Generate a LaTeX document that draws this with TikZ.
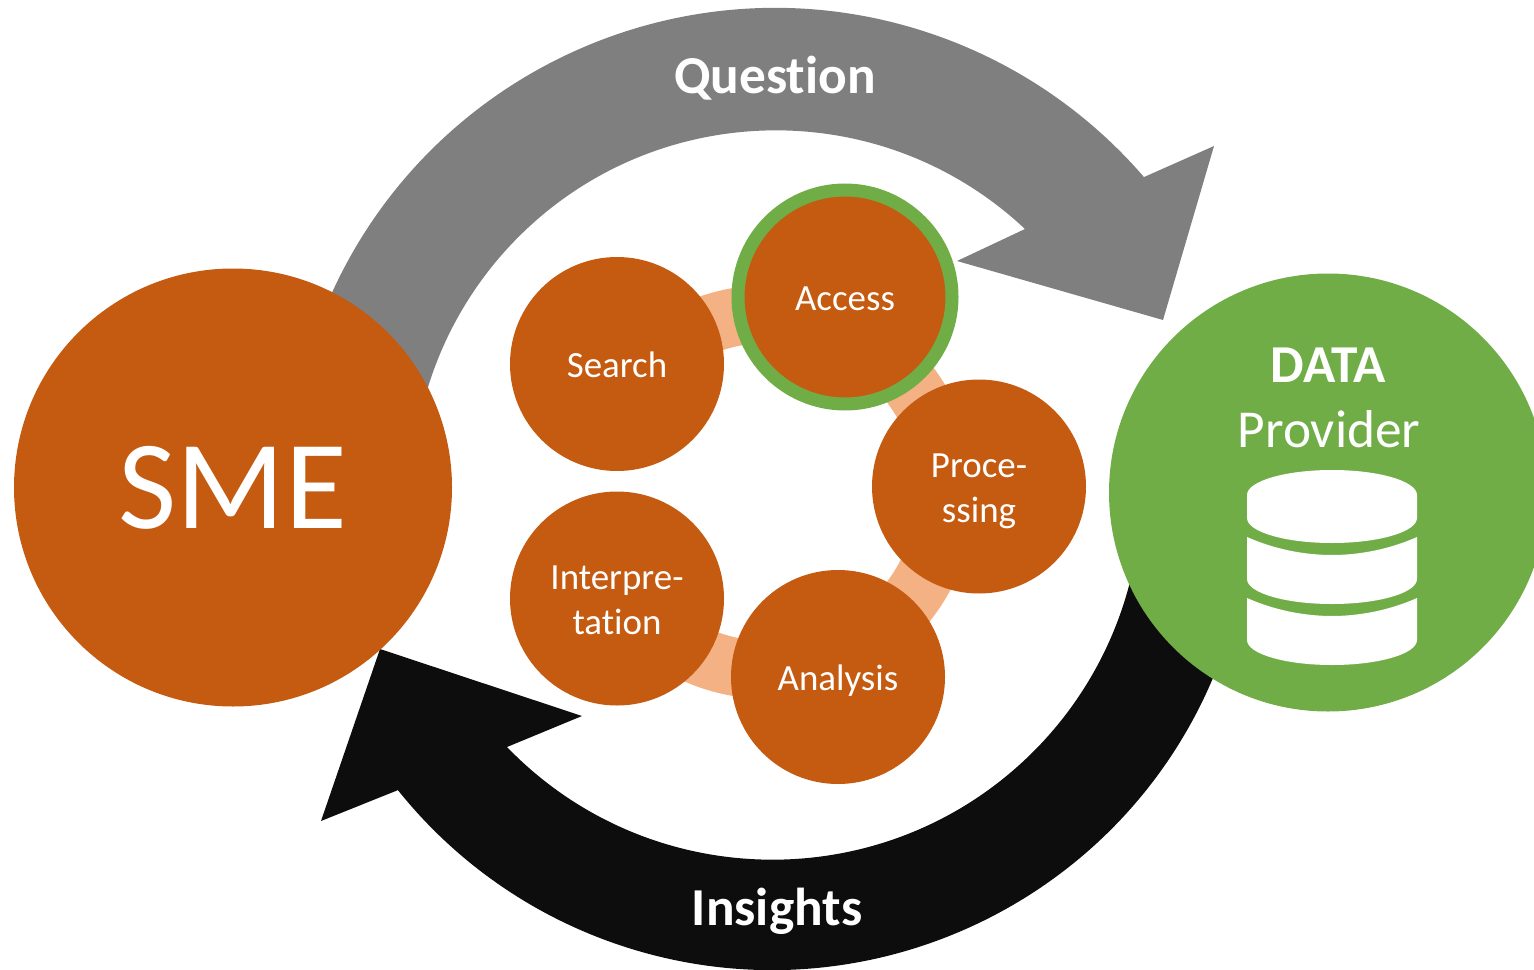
\documentclass[tikz,border=0pt]{standalone}
\usepackage{fontspec}
\setmainfont[Ligatures=NoCommon]{Carlito}
\definecolor{smeorange}{HTML}{C55A11}
\definecolor{ringpeach}{HTML}{F4B183}
\definecolor{datagreen}{HTML}{70AD47}
\definecolor{questiongray}{HTML}{7F7F7F}
\definecolor{insightblack}{HTML}{0D0D0D}
\newcommand{\stepstrut}{\rule[-6pt]{0pt}{32.25pt}}
\tikzset{
  bigcircle/.style={circle,inner sep=0pt,minimum size=328.5pt,text=white,align=center},
  stepcircle/.style={circle,fill=smeorange,inner sep=0pt,minimum size=160.5pt,text=white,align=center,font=\fontsize{27.7}{33.75}\selectfont},
  arrowlabel/.style={anchor=base,inner sep=0pt,text=white,font=\fontsize{40}{48}\selectfont\bfseries},
  datalabel/.style={anchor=base,inner sep=0pt,text=white,font=\fontsize{40}{48}\selectfont}
}
\begin{document}
\begin{tikzpicture}[x=0.75pt,y=0.75pt,yscale=-1,xscale=1]
\useasboundingbox (0,0) rectangle (1534,970);

%Shape: Question arrow
\fill [questiongray] (317.4,328.4) arc[start angle=-160,end angle=-40.75,radius=487] -- (1214,146) -- (1163,320) -- (957,261) -- (1025,229) arc[start angle=-46.8,end angle=-170,radius=364] -- cycle ;
%Shape: Insights arrow
\fill [insightblack] (1222.1,654.8) arc[start angle=20,end angle=141.35,radius=479] -- (321,821) -- (380,649) -- (582,716) -- (507,747) arc[start angle=136,end angle=8,radius=369] -- cycle ;
%Shape: Ring
\draw [ringpeach,line width=43.5pt] (622.2,594.1) arc[start angle=145,end angle=-140,radius=178] ;

%Shape: Circles
\node [bigcircle,fill=smeorange,font=\fontsize{95}{110}\selectfont] (sme) at (233,487.5) {\raisebox{-3pt}{SME}};
\node [bigcircle,fill=datagreen] (data) at (1328,492.5) {};
\node [stepcircle] (search) at (617,364) {\stepstrut Search};
\node [stepcircle,draw=datagreen,line width=9.75pt] (access) at (845,297) {\stepstrut Access};
\node [stepcircle] (processing) at (979,486.5) {\stepstrut Proce-\\\stepstrut ssing};
\node [stepcircle] (analysis) at (838,677) {\stepstrut Analysis};
\node [stepcircle] (interpretation) at (617,598.5) {\stepstrut Interpre-\\\stepstrut tation};

%Shape: Database
\fill [white] (1247,495) arc[x radius=85,y radius=25,start angle=180,end angle=360] -- (1417,518) arc[x radius=85,y radius=25,start angle=0,end angle=180] -- cycle ;
\foreach \dy in {0,61} {
  \fill [white,yshift=\dy*0.75pt] (1247,537) -- (1247,579) arc[x radius=85,y radius=25,start angle=180,end angle=0] -- (1417,537) .. controls (1390,549) and (1360,555) .. (1332,555) .. controls (1304,555) and (1274,549) .. (1247,537) -- cycle ;
}

% Text Node
\node [arrowlabel] (question) at (775,94) {Question};
\node [arrowlabel] (insights) at (777,925) {Insights};
\node [arrowlabel] (datatitle) at (1328.5,382.5) {DATA};
\node [datalabel] (provider) at (1329,447) {Provider};

\end{tikzpicture}
\end{document}
